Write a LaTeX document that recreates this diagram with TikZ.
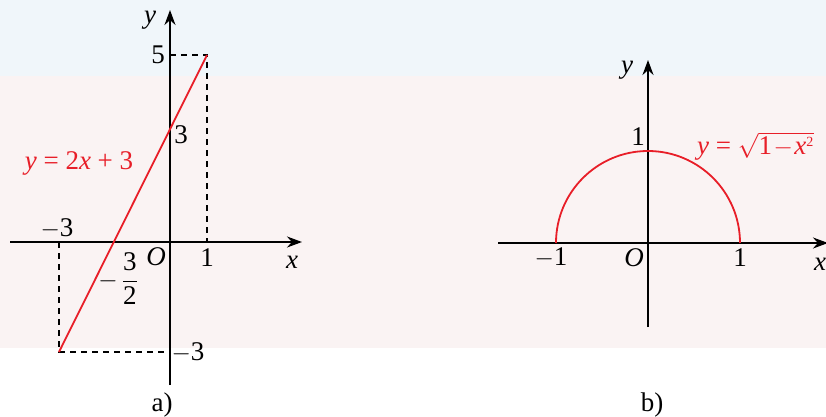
\documentclass[tikz,border=0pt]{standalone}
\usepackage{fontspec}
\setmainfont{Liberation Serif}
\usetikzlibrary{arrows.meta}
\definecolor{cred}{RGB}{232,30,40}
\definecolor{bgblue}{RGB}{240,246,250}
\definecolor{bgpink}{RGB}{250,243,243}
\begin{document}
\begin{tikzpicture}[x=1pt,y=-1pt,
  axis/.style={line width=1.8pt,-{Stealth[length=15pt,width=11pt]}},
  graphline/.style={cred,line width=1.8pt},
  guide/.style={line width=1.3pt,dash pattern=on 6pt off 5pt},
  lbl/.style={inner sep=0pt,font=\fontsize{27}{30}\selectfont},
  rlbl/.style={lbl,text=cred}]
\useasboundingbox (0,0) rectangle (826,417);
\fill[bgblue] (0,0) rectangle (826,76);
\fill[bgpink] (0,76) rectangle (826,348);
% ---------- a) ----------
\coordinate (Oa) at (170,242);
\coordinate (xa0) at (10,242);
\coordinate (xa1) at (302,242);
\coordinate (ya0) at (170,385);
\coordinate (ya1) at (170,10);
\coordinate (P1) at (207,55);
\coordinate (P1x) at (207,242);
\coordinate (P1y) at (170,55);
\coordinate (P2) at (59,352);
\coordinate (P2x) at (59,242);
\coordinate (P2y) at (170,352);
\draw[axis] (xa0) -- (xa1);
\draw[axis] (ya0) -- (ya1);
\draw[guide] (P1y) -- (P1) -- (P1x);
\draw[guide] (P2x) -- (P2) -- (P2y);
\draw[graphline] (P2) -- (P1);
\node[lbl] (ya) at (150,20) {\textit{y}};
\node[lbl] (l5) at (158,55) {5};
\node[lbl] (l3) at (181,135) {3};
\node[rlbl] (eqa) at (79,163) {\textit{y} = 2\textit{x} + 3};
\node[lbl] (lm3a) at (57,229) {$-$3};
\node[lbl] (lfrac) at (118,279) {$-\,\displaystyle\frac{\mbox{3}}{\mbox{2}}$};
\node[lbl] (Oal) at (156,257) {\textit{O}};
\node[lbl] (l1a) at (207,258) {1};
\node[lbl] (xal) at (292,262) {\textit{x}};
\node[lbl] (lm3b) at (188,353) {$-$3};
\node[lbl] (capa) at (162,405) {a)};
% ---------- b) ----------
\coordinate (Ob) at (648,243);
\coordinate (xb0) at (498,243);
\coordinate (xb1) at (828,243);
\coordinate (yb0) at (648,327);
\coordinate (yb1) at (648,60);
\coordinate (A) at (556,243);
\draw[axis] (xb0) -- (xb1);
\draw[axis] (yb0) -- (yb1);
\draw[graphline] (A) arc[start angle=180,end angle=0,x radius=92,y radius=-92];
\node[lbl] (ybl) at (627,70) {\textit{y}};
\node[lbl] (l1b) at (638,137) {1};
\node[rlbl,anchor=west] (eqb) at (697,146) {\textit{y} = $\sqrt{\mbox{1}\mkern1mu{-}\mkern1mu\mbox{\textit{x}}^{\mbox{\fontsize{14}{15}\selectfont 2}}}$};
\node[lbl] (lm1) at (551,258) {$-$1};
\node[lbl] (Obl) at (634,258) {\textit{O}};
\node[lbl] (l1c) at (740,258) {1};
\node[lbl] (xbl) at (820,264) {\textit{x}};
\node[lbl] (capb) at (652,405) {b)};
\end{tikzpicture}
\end{document}
